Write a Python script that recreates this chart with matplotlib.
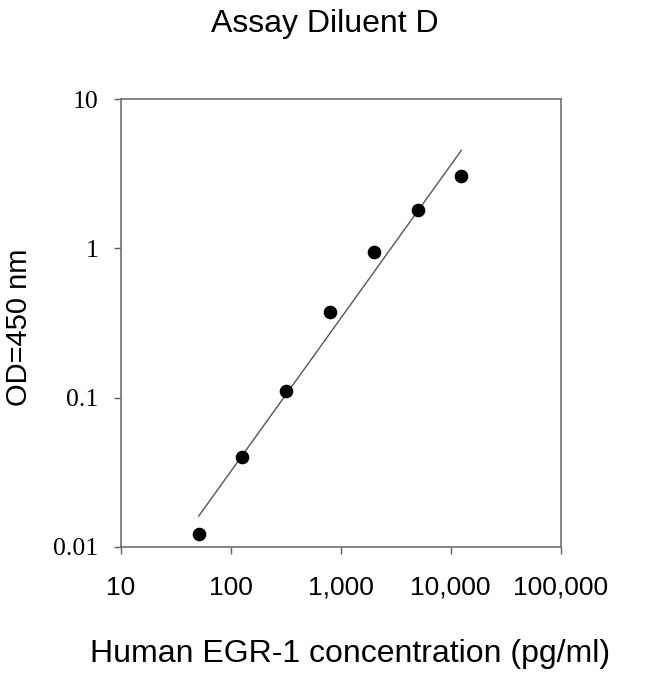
import numpy as np
import matplotlib
matplotlib.use("Agg")
import matplotlib.pyplot as plt

# standard curve: Human EGR-1, assay diluent D
conc = [51.2, 128, 320, 800, 2000, 5000, 12500]
od = [0.0121, 0.040, 0.111, 0.374, 0.944, 1.82, 3.04]

x_ticks = [10, 100, 1000, 10000, 100000]
x_labels = ["10", "100", "1,000", "10,000", "100,000"]
y_ticks = [0.01, 0.1, 1, 10]
y_labels = ["0.01", "0.1", "1", "10"]

sans = "Liberation Sans"
serif = "Liberation Serif"

fig = plt.figure(figsize=(6.5, 6.74), dpi=100)
ax = fig.add_axes([0.1857, 0.1889, 0.6769, 0.6638])

# log-log linear fit
lx = np.log10(conc)
ly = np.log10(od)
slope, icpt = np.polyfit(lx, ly, 1)
fx = np.array([lx.min(), lx.max()])
ax.plot(10**fx, 10**(slope * fx + icpt), color="#555555", linewidth=1.0)

ax.plot(conc, od, "o", color="black", markersize=8.8)

ax.set_xscale("log")
ax.set_yscale("log")
ax.set_xlim(10, 100000)
ax.set_ylim(0.01, 10)
ax.minorticks_off()

ax.set_xticks(x_ticks)
ax.set_xticklabels(x_labels, fontfamily=sans, fontsize=19)
ax.set_yticks(y_ticks)
ax.set_yticklabels(y_labels, fontfamily=serif, fontsize=18.5)

ax.tick_params(axis="x", direction="out", length=5, width=1, color="#606060", pad=16)
ax.tick_params(axis="y", direction="out", length=5, width=1, color="#606060", pad=11)
for s in ax.spines.values():
    s.set_color("#707070")
    s.set_linewidth(1.2)

fig.text(0.5, 1 - 31.7 / 674, "Assay Diluent D", fontfamily=sans, fontsize=23,
         ha="center", va="baseline")
fig.text(350.5 / 650, 1 - 662 / 674, "Human EGR-1 concentration (pg/ml)",
         fontfamily=sans, fontsize=23, ha="center", va="baseline")
fig.text(19 / 650, 1 - 327 / 674, "OD=450 nm", fontfamily=sans, fontsize=21,
         rotation=90, ha="center", va="center")

fig.savefig("out.png", dpi=100)
